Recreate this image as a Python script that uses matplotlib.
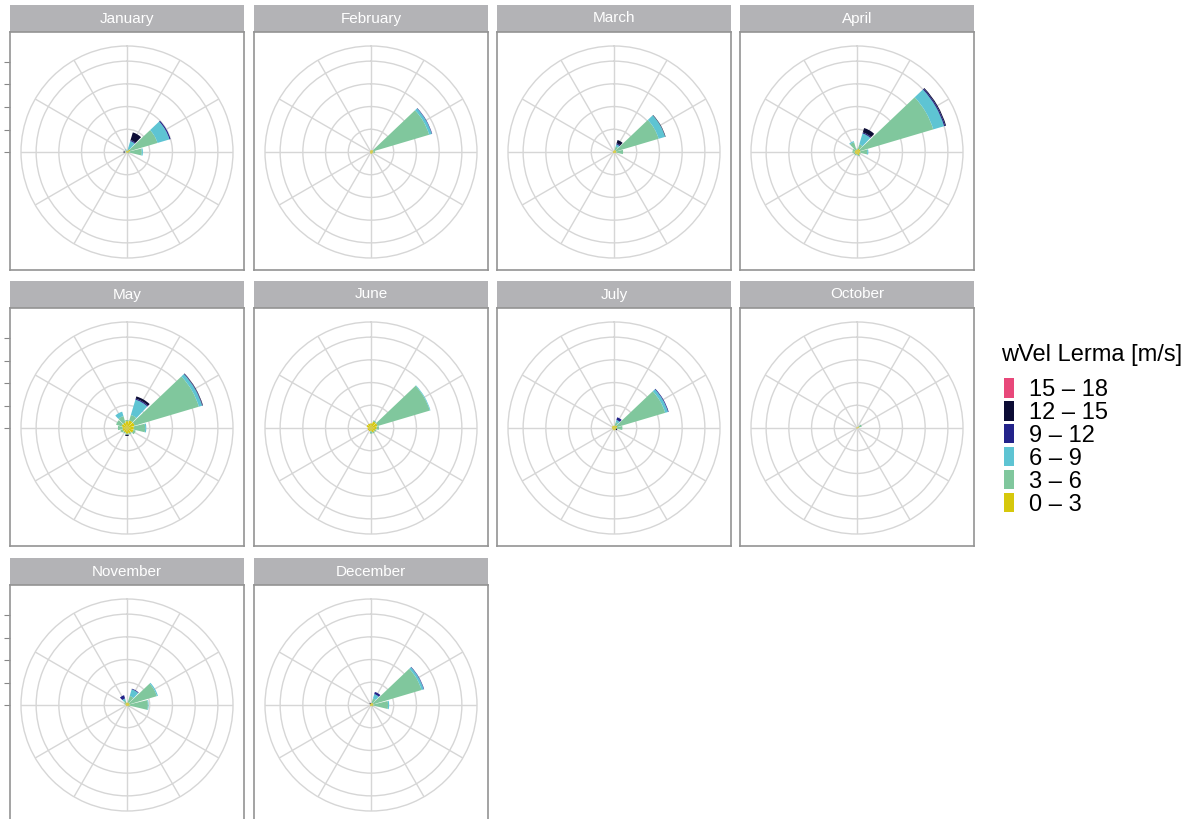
import numpy as np
import matplotlib
matplotlib.use("Agg")
import matplotlib.pyplot as plt
from matplotlib.patches import Patch

plt.rcParams['font.family'] = ['Liberation Sans', 'DejaVu Sans']

# wind rose data: relative frequency per 30-degree sector (N = 0, clockwise)
months = ["January", "February", "March", "April", "May",
          "June", "July", "October", "November", "December"]
directions = np.arange(0, 360, 30)
speed_labels = ["0 \u2013 3", "3 \u2013 6", "6 \u2013 9", "9 \u2013 12", "12 \u2013 15", "15 \u2013 18"]
speed_colors = ["#d6c80c", "#80c79d", "#5ec4d3", "#23238a", "#0c0c35", "#e8487a"]

#            N     30    60    90    120   150   180   210   240   270   300   330
spd_0_3 = [
    [0.05, 0.05, 0.15, 0.10, 0.05, 0.05, 0.05, 0.03, 0.03, 0.05, 0.05, 0.05],
    [0.08, 0.08, 0.12, 0.08, 0.08, 0.08, 0.08, 0.05, 0.05, 0.05, 0.05, 0.05],
    [0.05, 0.10, 0.10, 0.10, 0.08, 0.05, 0.05, 0.05, 0.05, 0.05, 0.05, 0.05],
    [0.10, 0.15, 0.15, 0.15, 0.12, 0.15, 0.10, 0.10, 0.10, 0.10, 0.10, 0.10],
    [0.30, 0.35, 0.35, 0.30, 0.30, 0.25, 0.25, 0.20, 0.20, 0.20, 0.25, 0.25],
    [0.20, 0.30, 0.30, 0.25, 0.20, 0.20, 0.15, 0.15, 0.15, 0.15, 0.20, 0.20],
    [0.10, 0.12, 0.15, 0.12, 0.10, 0.10, 0.10, 0.08, 0.08, 0.08, 0.10, 0.10],
    [0.03, 0.03, 0.10, 0.03, 0.03, 0.03, 0.03, 0.03, 0.03, 0.03, 0.03, 0.03],
    [0.10, 0.12, 0.12, 0.12, 0.08, 0.05, 0.05, 0.05, 0.05, 0.05, 0.08, 0.10],
    [0.08, 0.10, 0.12, 0.10, 0.08, 0.05, 0.05, 0.05, 0.05, 0.05, 0.05, 0.05],
]
spd_3_6 = [
    [0.00, 0.10, 1.25, 0.55, 0.05, 0.00, 0.00, 0.00, 0.00, 0.05, 0.00, 0.05],
    [0.00, 0.00, 2.55, 0.10, 0.00, 0.00, 0.00, 0.00, 0.00, 0.00, 0.00, 0.00],
    [0.00, 0.15, 1.95, 0.30, 0.00, 0.00, 0.00, 0.00, 0.00, 0.00, 0.00, 0.00],
    [0.05, 0.20, 3.35, 0.30, 0.05, 0.05, 0.05, 0.05, 0.05, 0.10, 0.10, 0.35],
    [0.05, 0.25, 2.95, 0.50, 0.10, 0.05, 0.05, 0.05, 0.10, 0.20, 0.25, 0.30],
    [0.00, 0.05, 2.40, 0.10, 0.05, 0.05, 0.10, 0.00, 0.00, 0.00, 0.00, 0.00],
    [0.00, 0.15, 2.20, 0.25, 0.00, 0.00, 0.00, 0.00, 0.00, 0.00, 0.00, 0.00],
    [0.00, 0.00, 0.12, 0.00, 0.00, 0.00, 0.00, 0.00, 0.00, 0.00, 0.00, 0.00],
    [0.00, 0.30, 1.25, 0.80, 0.05, 0.00, 0.00, 0.00, 0.00, 0.00, 0.05, 0.10],
    [0.00, 0.20, 2.20, 0.65, 0.03, 0.00, 0.00, 0.00, 0.00, 0.00, 0.00, 0.00],
]
spd_6_9 = [
    [0.00, 0.35, 0.55, 0.05, 0.00, 0.00, 0.00, 0.00, 0.00, 0.00, 0.00, 0.03],
    [0.00, 0.00, 0.12, 0.00, 0.00, 0.00, 0.00, 0.00, 0.00, 0.00, 0.00, 0.00],
    [0.00, 0.10, 0.30, 0.00, 0.00, 0.00, 0.00, 0.00, 0.00, 0.00, 0.00, 0.00],
    [0.00, 0.50, 0.50, 0.05, 0.00, 0.00, 0.00, 0.00, 0.00, 0.00, 0.00, 0.05],
    [0.00, 0.70, 0.15, 0.05, 0.00, 0.00, 0.00, 0.00, 0.00, 0.00, 0.00, 0.20],
    [0.00, 0.00, 0.03, 0.00, 0.00, 0.00, 0.00, 0.00, 0.00, 0.00, 0.00, 0.00],
    [0.00, 0.10, 0.13, 0.00, 0.00, 0.00, 0.00, 0.00, 0.00, 0.00, 0.00, 0.00],
    [0.00, 0.00, 0.00, 0.00, 0.00, 0.00, 0.00, 0.00, 0.00, 0.00, 0.00, 0.00],
    [0.00, 0.30, 0.05, 0.03, 0.00, 0.00, 0.00, 0.00, 0.00, 0.00, 0.00, 0.10],
    [0.00, 0.20, 0.10, 0.05, 0.00, 0.00, 0.00, 0.00, 0.00, 0.00, 0.00, 0.00],
]
spd_9_12 = [
    [0.00, 0.05, 0.05, 0.00, 0.00, 0.00, 0.00, 0.00, 0.00, 0.00, 0.00, 0.00],
    [0.00, 0.00, 0.02, 0.00, 0.00, 0.00, 0.00, 0.00, 0.00, 0.00, 0.00, 0.00],
    [0.00, 0.05, 0.00, 0.00, 0.00, 0.00, 0.00, 0.00, 0.00, 0.00, 0.00, 0.00],
    [0.00, 0.05, 0.05, 0.00, 0.00, 0.00, 0.00, 0.00, 0.00, 0.00, 0.00, 0.00],
    [0.00, 0.05, 0.02, 0.00, 0.00, 0.00, 0.00, 0.00, 0.00, 0.00, 0.00, 0.00],
    [0.00, 0.00, 0.00, 0.00, 0.00, 0.00, 0.00, 0.00, 0.00, 0.00, 0.00, 0.00],
    [0.00, 0.12, 0.03, 0.00, 0.00, 0.00, 0.00, 0.00, 0.00, 0.00, 0.00, 0.00],
    [0.00, 0.00, 0.00, 0.00, 0.00, 0.00, 0.00, 0.00, 0.00, 0.00, 0.00, 0.00],
    [0.00, 0.03, 0.00, 0.00, 0.00, 0.00, 0.00, 0.00, 0.00, 0.00, 0.00, 0.15],
    [0.00, 0.10, 0.02, 0.00, 0.00, 0.00, 0.00, 0.00, 0.00, 0.00, 0.00, 0.00],
]
spd_12_15 = [
    [0.00, 0.35, 0.00, 0.00, 0.00, 0.00, 0.00, 0.00, 0.00, 0.05, 0.00, 0.00],
    [0.00, 0.00, 0.00, 0.00, 0.00, 0.00, 0.00, 0.00, 0.00, 0.00, 0.00, 0.00],
    [0.00, 0.15, 0.02, 0.00, 0.00, 0.00, 0.00, 0.00, 0.00, 0.00, 0.00, 0.00],
    [0.00, 0.20, 0.04, 0.00, 0.00, 0.00, 0.00, 0.00, 0.00, 0.00, 0.00, 0.00],
    [0.00, 0.10, 0.02, 0.00, 0.00, 0.00, 0.05, 0.00, 0.00, 0.00, 0.00, 0.00],
    [0.00, 0.00, 0.00, 0.00, 0.00, 0.00, 0.00, 0.00, 0.00, 0.00, 0.00, 0.00],
    [0.00, 0.00, 0.00, 0.00, 0.05, 0.00, 0.00, 0.00, 0.00, 0.00, 0.00, 0.00],
    [0.00, 0.00, 0.00, 0.00, 0.00, 0.00, 0.00, 0.00, 0.00, 0.00, 0.00, 0.00],
    [0.00, 0.00, 0.00, 0.00, 0.00, 0.00, 0.00, 0.00, 0.00, 0.00, 0.00, 0.00],
    [0.00, 0.00, 0.00, 0.00, 0.00, 0.00, 0.00, 0.00, 0.00, 0.00, 0.00, 0.05],
]
spd_15_18 = [[0.0] * 12 for _ in months]

speed_data = [spd_0_3, spd_3_6, spd_6_9, spd_9_12, spd_12_15, spd_15_18]

# layout in pixels
W, H = 1194, 819
col_x = [10, 254, 497, 740]
row_y = [5, 281, 558]
panel_w, strip_h, body_h = 234, 27, 238
px_per_unit = 22.5
r_max = 105 / px_per_unit


def rect(x, y, w, h):
    return [x / W, 1 - (y + h) / H, w / W, h / H]


fig = plt.figure(figsize=(W / 100, H / 100), dpi=100)

theta = np.deg2rad(directions)
bar_w = np.deg2rad(27)

for i, month in enumerate(months):
    r, c = divmod(i, 4)
    x0, y0 = col_x[c], row_y[r]

    # strip with month name
    sax = fig.add_axes(rect(x0, y0, panel_w, strip_h))
    sax.set_facecolor("#b3b3b6")
    sax.set_xticks([])
    sax.set_yticks([])
    for s in sax.spines.values():
        s.set_visible(False)
    sax.text(0.5, 0.5, month, color="white", fontsize=11,
             ha="center", va="center", transform=sax.transAxes)

    # panel body with border (radial ticks only on first column)
    by = y0 + strip_h
    bax = fig.add_axes(rect(x0, by, panel_w, body_h))
    bax.set_xlim(0, 1)
    bax.set_ylim(-(body_h - 120) / px_per_unit, 120 / px_per_unit)
    bax.set_xticks([])
    if c == 0:
        bax.set_yticks([0, 1, 2, 3, 4])
        bax.set_yticklabels([])
        bax.tick_params(axis="y", length=4, width=0.8, color="#888888")
    else:
        bax.set_yticks([])
    for s in bax.spines.values():
        s.set_color("#939393")
        s.set_linewidth(1.2)

    # polar wind rose
    cx, cy = x0 + panel_w / 2, by + 120
    pax = fig.add_axes(rect(cx - 106, cy - 106, 212, 212), projection="polar")
    pax.patch.set_alpha(0)
    pax.set_theta_zero_location("N")
    pax.set_theta_direction(-1)
    pax.set_ylim(0, r_max)
    pax.set_thetagrids(np.arange(0, 360, 30), labels=[])
    pax.set_rgrids([1, 2, 3, 4], labels=[])
    pax.grid(True, color="#d6d6d6", linewidth=1.0)
    pax.spines["polar"].set_color("#d6d6d6")
    pax.spines["polar"].set_linewidth(1.0)

    bottom = np.zeros(len(directions))
    for k, data in enumerate(speed_data):
        vals = np.array(data[i])
        pax.bar(theta, vals, width=bar_w, bottom=bottom,
                color=speed_colors[k], edgecolor="none", zorder=3)
        bottom += vals

# legend
fig.text(1001 / W, 1 - 355 / H, "wVel Lerma [m/s]", fontsize=17,
         ha="left", va="center")
handles = [Patch(facecolor=speed_colors[k], edgecolor="none", label=speed_labels[k])
           for k in reversed(range(len(speed_labels)))]
fig.legend(handles=handles, loc="upper left",
           bbox_to_anchor=(1004 / W, 1 - 378 / H),
           frameon=False, fontsize=17,
           handlelength=0.42, handleheight=0.9, handletextpad=0.65,
           labelspacing=0.0, borderaxespad=0, borderpad=0)

fig.savefig("out.png", dpi=100)
